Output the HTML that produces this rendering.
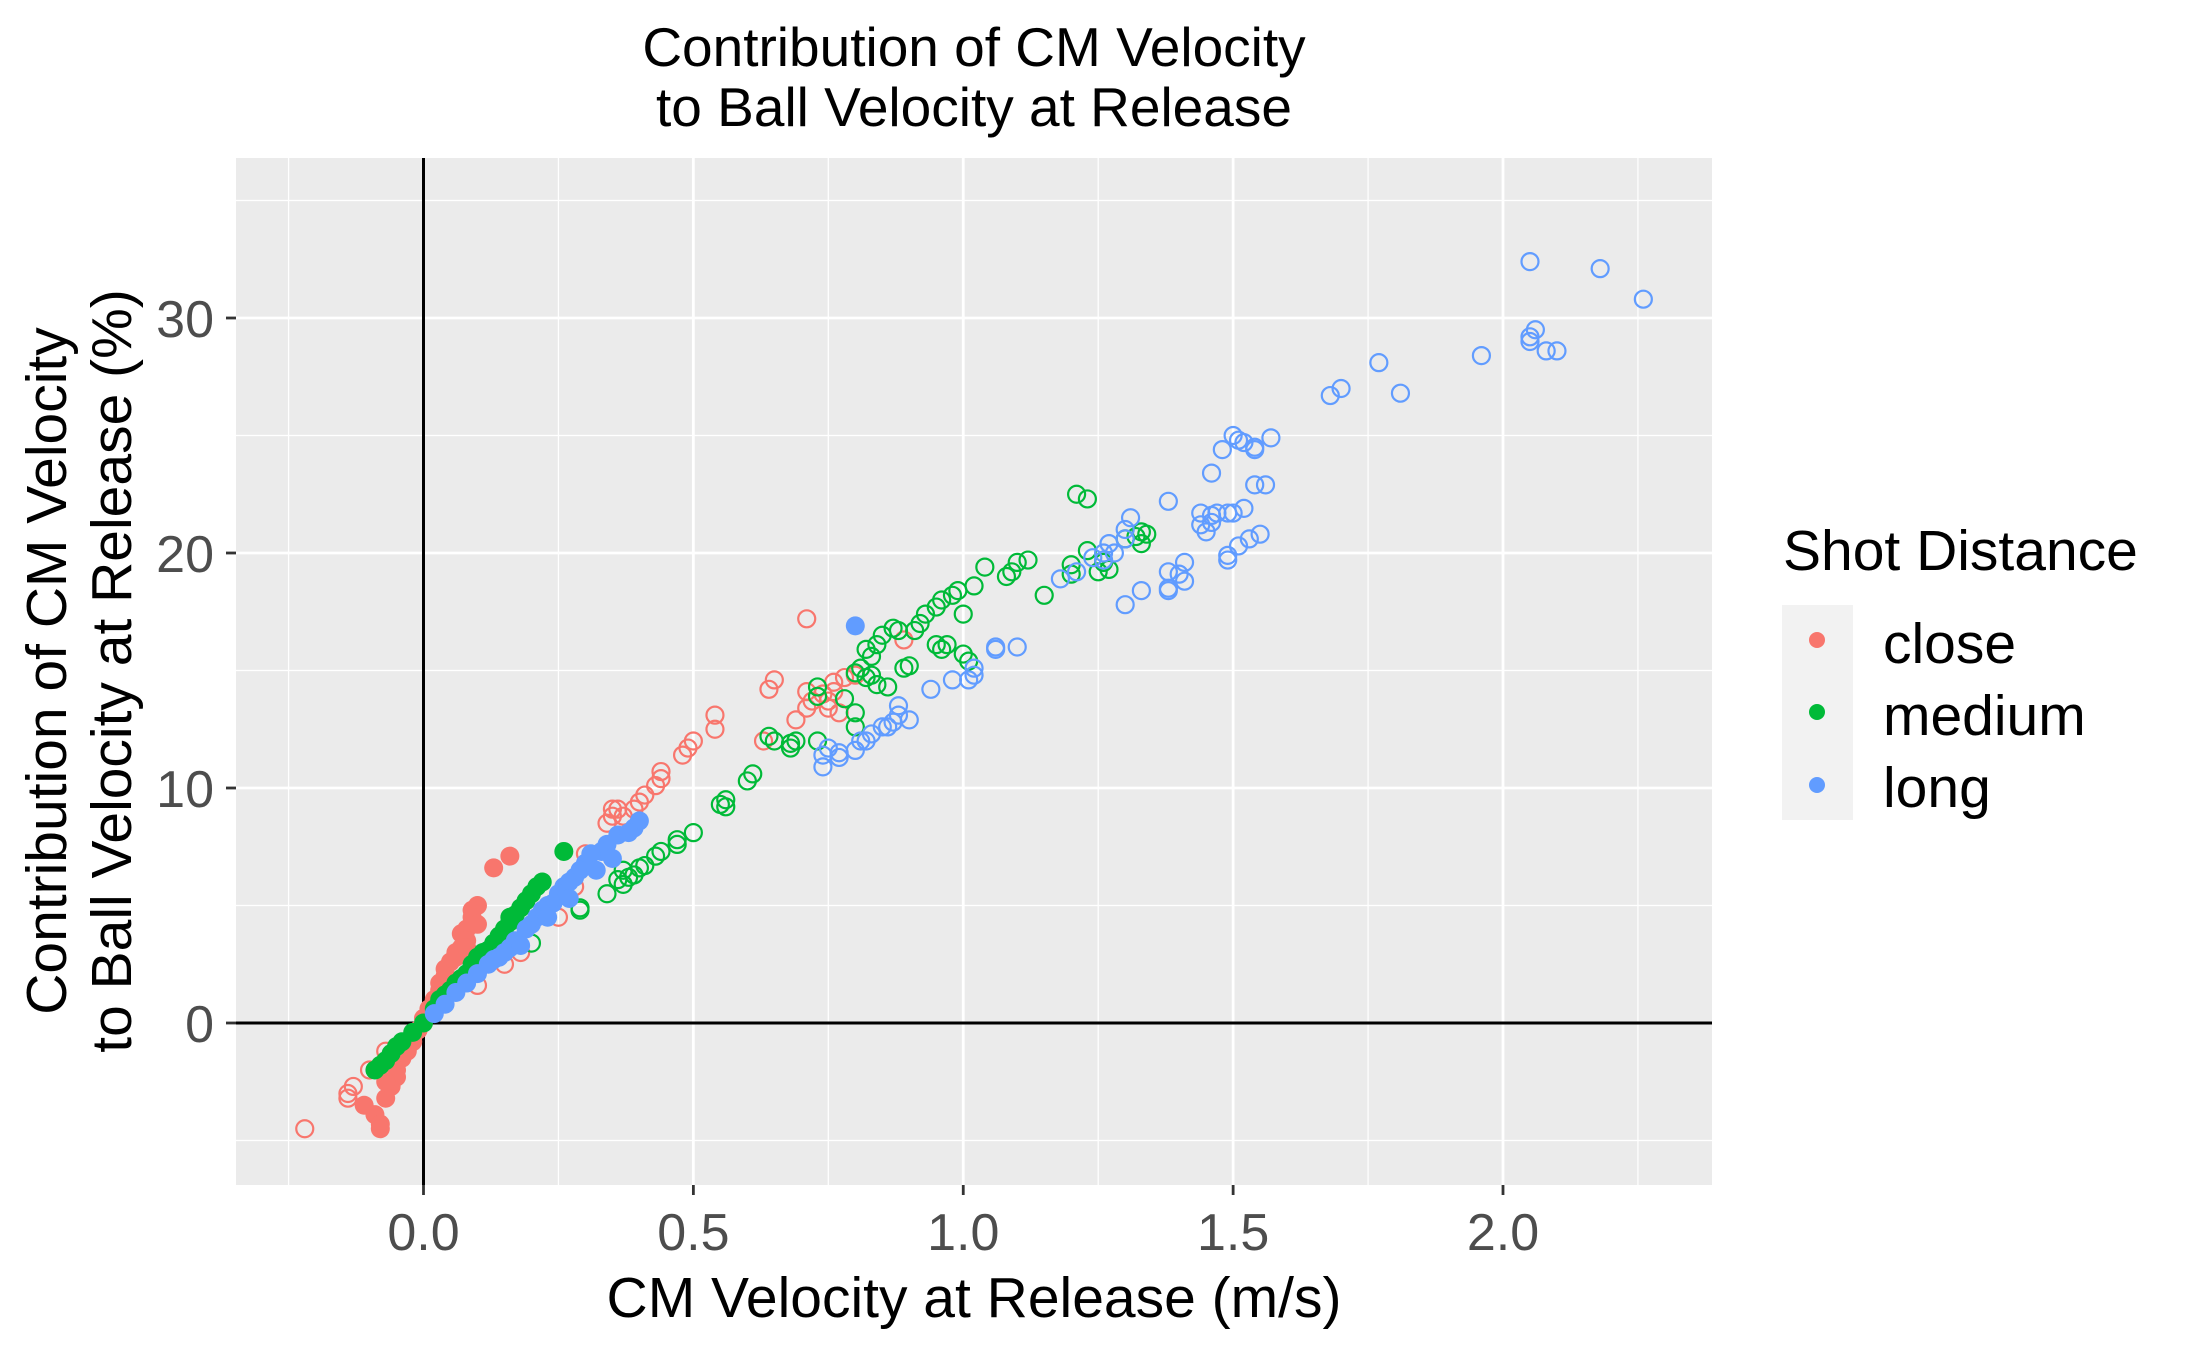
<!DOCTYPE html>
<html>
<head>
<meta charset="utf-8">
<style>
html,body{margin:0;padding:0;background:#fff;}
svg{display:block;font-family:"Liberation Sans",Arial,sans-serif;}
</style>
</head>
<body>
<svg id="chart" width="2187" height="1350" viewBox="0 0 2187 1350" xmlns="http://www.w3.org/2000/svg">
  <rect x="0" y="0" width="2187" height="1350" fill="#ffffff"/>
  <rect x="236" y="158" width="1476" height="1027" fill="#EBEBEB"/>
  <g id="grid"></g>
  <g id="zero"></g>
  <g id="points"></g>
  <g id="axes"></g>
  <text x="974" y="66" font-size="55" text-anchor="middle" fill="#000">Contribution of CM Velocity</text>
  <text x="974" y="126" font-size="55" text-anchor="middle" fill="#000">to Ball Velocity at Release</text>
  <text x="974" y="1317" font-size="57" text-anchor="middle" fill="#000">CM Velocity at Release (m/s)</text>
  <text transform="translate(66,671) rotate(-90)" font-size="57" text-anchor="middle" fill="#000">Contribution of CM Velocity</text>
  <text transform="translate(131,671) rotate(-90)" font-size="57" text-anchor="middle" fill="#000">to Ball Velocity at Release (%)</text>
  <g>
    <text x="1783" y="570" font-size="57" fill="#000">Shot Distance</text>
    <rect x="1782" y="605" width="71" height="215" fill="#F2F2F2"/>
    <circle cx="1817" cy="640" r="8" fill="#F8766D"/>
    <circle cx="1817" cy="712" r="8" fill="#00BA38"/>
    <circle cx="1817" cy="785" r="8" fill="#619CFF"/>
    <text x="1883" y="663" font-size="57" fill="#000">close</text>
    <text x="1883" y="735" font-size="57" fill="#000">medium</text>
    <text x="1883" y="807" font-size="57" fill="#000">long</text>
  </g>
</svg>
<script>
const xTicks = [0, 0.5, 1.0, 1.5, 2.0];
const xTickLabels = ["0.0", "0.5", "1.0", "1.5", "2.0"];
const xMinor = [-0.25, 0.25, 0.75, 1.25, 1.75, 2.25];
const yTicks = [0, 10, 20, 30];
const yTickLabels = ["0", "10", "20", "30"];
const yMinor = [-5, 5, 15, 25, 35];

const closeOpenX = [0.71,0.65,0.64,0.71,0.72,0.74,0.76,0.75,0.75,0.77,0.78,0.80,0.76,0.71,0.69,0.63,0.89,0.54,0.54,0.50,0.49,0.48,0.44,0.44,0.43,0.41,0.40,0.39,0.37,0.35,0.36,0.35,0.34,0.30,0.28,0.25,0.15,0.18,0.10,-0.22,-0.14,-0.14,-0.13,-0.10,-0.07,-0.04];
const closeOpenY = [17.2,14.6,14.2,14.1,13.7,14.0,14.1,13.7,13.4,13.2,14.7,14.8,14.5,13.4,12.9,12.0,16.3,13.1,12.5,12.0,11.7,11.4,10.7,10.4,10.1,9.7,9.4,9.1,8.8,9.1,9.1,8.8,8.5,7.2,5.8,4.5,2.5,3.0,1.6,-4.5,-3.0,-3.2,-2.7,-2.0,-1.2,-1.0];
const closeFilledX = [0.13,0.16,0.10,0.09,0.09,0.08,0.07,0.08,0.07,0.06,0.05,0.04,0.04,0.03,0.03,0.02,0.01,0.00,-0.01,-0.02,-0.03,-0.04,-0.05,-0.05,-0.06,-0.07,-0.09,-0.08,-0.08,-0.11,-0.07,0.06,0.08,0.10];
const closeFilledY = [6.6,7.1,5.0,4.8,4.5,4.0,3.8,3.5,3.2,3.0,2.6,2.3,2.0,1.7,1.4,1.0,0.6,0.2,-0.3,-0.8,-1.2,-1.5,-2.0,-2.3,-2.7,-3.2,-3.9,-4.3,-4.5,-3.5,-2.5,2.8,3.2,4.2];

const mediumOpenX = [1.21,1.23,1.23,1.20,1.20,1.15,1.25,1.26,1.27,1.33,1.34,1.32,1.33,1.30,1.12,1.10,1.08,1.09,1.04,1.02,1.00,0.99,0.98,0.96,0.95,0.93,0.92,0.91,0.87,0.88,0.85,0.84,0.82,0.83,0.81,0.80,0.82,0.83,0.84,0.86,0.89,0.90,0.95,0.97,0.96,1.00,1.01,0.78,0.80,0.80,0.73,0.73,0.73,0.64,0.65,0.68,0.69,0.68,0.60,0.61,0.55,0.56,0.56,0.50,0.47,0.47,0.44,0.43,0.41,0.40,0.39,0.38,0.37,0.36,0.37,0.34,0.29,0.29,0.20];
const mediumOpenY = [22.5,22.3,20.1,19.5,19.1,18.2,19.2,19.6,19.3,20.9,20.8,20.7,20.4,20.6,19.7,19.6,19.0,19.2,19.4,18.6,17.4,18.4,18.2,18.0,17.7,17.4,17.0,16.7,16.8,16.7,16.5,16.1,15.9,15.6,15.1,14.9,14.7,14.8,14.4,14.3,15.1,15.2,16.1,16.1,15.9,15.7,15.4,13.8,13.2,12.6,14.3,13.9,12.0,12.2,12.0,11.9,12.0,11.7,10.3,10.6,9.3,9.2,9.5,8.1,7.8,7.6,7.3,7.1,6.7,6.6,6.3,6.2,6.5,6.1,5.9,5.5,4.8,4.9,3.4];
const mediumFilledX = [0.26,-0.09,-0.08,-0.07,-0.06,-0.05,-0.04,-0.02,0.00,0.02,0.03,0.05,0.06,0.08,0.09,0.10,0.12,0.13,0.14,0.15,0.16,0.17,0.18,0.19,0.20,0.21,0.22,0.11,0.07,0.04,0.16];
const mediumFilledY = [7.3,-2.0,-1.8,-1.6,-1.3,-1.0,-0.8,-0.4,0.0,0.6,1.0,1.4,1.7,2.1,2.5,2.8,3.1,3.4,3.7,4.0,4.3,4.6,4.9,5.2,5.5,5.8,6.0,3.0,1.9,1.2,4.5];

const longOpenX = [2.05,2.18,2.26,2.05,2.06,2.05,2.08,2.10,1.96,1.77,1.70,1.68,1.81,1.50,1.51,1.52,1.57,1.48,1.54,1.54,1.46,1.54,1.56,1.38,1.52,1.44,1.46,1.47,1.49,1.50,1.44,1.46,1.45,1.55,1.53,1.51,1.49,1.49,1.31,1.30,1.30,1.27,1.26,1.24,1.26,1.28,1.41,1.38,1.40,1.41,1.38,1.38,1.33,1.30,1.18,1.21,1.06,1.06,1.10,1.02,1.02,1.01,0.98,0.94,0.88,0.88,0.90,0.87,0.85,0.86,0.83,0.82,0.81,0.80,0.77,0.75,0.74,0.77,0.74];
const longOpenY = [32.4,32.1,30.8,29.0,29.5,29.2,28.6,28.6,28.4,28.1,27.0,26.7,26.8,25.0,24.8,24.7,24.9,24.4,24.5,24.4,23.4,22.9,22.9,22.2,21.9,21.7,21.6,21.7,21.7,21.7,21.2,21.3,20.9,20.8,20.6,20.3,19.9,19.7,21.5,21.0,20.6,20.4,20.0,19.8,19.7,20.0,19.6,19.2,19.1,18.8,18.5,18.4,18.4,17.8,18.9,19.2,16.0,15.9,16.0,15.1,14.8,14.6,14.6,14.2,13.5,13.1,12.9,12.8,12.6,12.6,12.3,12.0,12.0,11.6,11.5,11.7,11.4,11.3,10.9];
const longFilledX = [0.80,0.40,0.39,0.36,0.34,0.33,0.31,0.30,0.29,0.28,0.27,0.26,0.25,0.24,0.23,0.22,0.21,0.20,0.19,0.17,0.16,0.15,0.13,0.12,0.10,0.08,0.06,0.04,0.02,0.27,0.23,0.32,0.35,0.38,0.18,0.14];
const longFilledY = [16.9,8.6,8.3,8.0,7.6,7.3,7.2,6.8,6.5,6.2,6.0,5.8,5.5,5.1,5.0,4.8,4.5,4.2,4.0,3.5,3.2,3.0,2.7,2.5,2.1,1.7,1.3,0.8,0.4,5.3,4.5,6.5,7.0,8.1,3.3,2.8];

const NS = "http://www.w3.org/2000/svg";
const P = {left:236, right:1712, top:158, bottom:1185};
function xScale(v){ return 423.5 + 539.75 * v; }
function yScale(v){ return 1023 - 23.5 * v; }
function mk(tag, attrs, parent){
  const el = document.createElementNS(NS, tag);
  for (const k in attrs) el.setAttribute(k, attrs[k]);
  parent.appendChild(el);
  return el;
}
const grid = document.getElementById('grid');
const axes = document.getElementById('axes');
const zero = document.getElementById('zero');
const pts = document.getElementById('points');

xMinor.forEach(v => {
  const l = mk('line', {x1:xScale(v), x2:xScale(v), y1:P.top, y2:P.bottom, stroke:'#fff', 'stroke-width':1.3}, grid);
  
  
});
yMinor.forEach(v => {
  const l = mk('line', {x1:P.left, x2:P.right, y1:yScale(v), y2:yScale(v), stroke:'#fff', 'stroke-width':1.3}, grid);
  
  
});
xTicks.forEach((v, i) => {
  const l = mk('line', {x1:xScale(v), x2:xScale(v), y1:P.top, y2:P.bottom, stroke:'#fff', 'stroke-width':2.8}, grid);
  
  
  const t = mk('line', {x1:xScale(v), x2:xScale(v), y1:P.bottom, y2:P.bottom + 10, stroke:'#333', 'stroke-width':2.8}, axes);
  
  
  const tx = mk('text', {x:xScale(v), y:1250, 'font-size':52, 'text-anchor':'middle', fill:'#4D4D4D'}, axes);
  tx.textContent = xTickLabels[i];
  
  
});
yTicks.forEach((v, i) => {
  const l = mk('line', {x1:P.left, x2:P.right, y1:yScale(v), y2:yScale(v), stroke:'#fff', 'stroke-width':2.8}, grid);
  
  
  const t = mk('line', {x1:P.left - 10, x2:P.left, y1:yScale(v), y2:yScale(v), stroke:'#333', 'stroke-width':2.8}, axes);
  
  
  const tx = mk('text', {x:214, y:yScale(v) + 19, 'font-size':52, 'text-anchor':'end', fill:'#4D4D4D'}, axes);
  tx.textContent = yTickLabels[i];
  
  
});
const hz = mk('line', {x1:P.left, x2:P.right, y1:yScale(0), y2:yScale(0), stroke:'#000', 'stroke-width':3}, zero);


const vz = mk('line', {x1:xScale(0), x2:xScale(0), y1:P.top, y2:P.bottom, stroke:'#000', 'stroke-width':3}, zero);



function drawOpen(xs, ys, color, name){
  xs.forEach((x, i) => {
    const c = mk('circle', {cx:xScale(x), cy:yScale(ys[i]), r:8.5, fill:'none', stroke:color, 'stroke-width':2.2}, pts);
    
    
  });
}
function drawFilled(xs, ys, color, name){
  xs.forEach((x, i) => {
    const c = mk('circle', {cx:xScale(x), cy:yScale(ys[i]), r:9.5, fill:color}, pts);
    
    
  });
}
drawOpen(closeOpenX, closeOpenY, '#F8766D', 'close-open-point');
drawOpen(mediumOpenX, mediumOpenY, '#00BA38', 'medium-open-point');
drawOpen(longOpenX, longOpenY, '#619CFF', 'long-open-point');
drawFilled(closeFilledX, closeFilledY, '#F8766D', 'close-filled-point');
drawFilled(mediumFilledX, mediumFilledY, '#00BA38', 'medium-filled-point');
drawFilled(longFilledX, longFilledY, '#619CFF', 'long-filled-point');
</script>
</body>
</html>
